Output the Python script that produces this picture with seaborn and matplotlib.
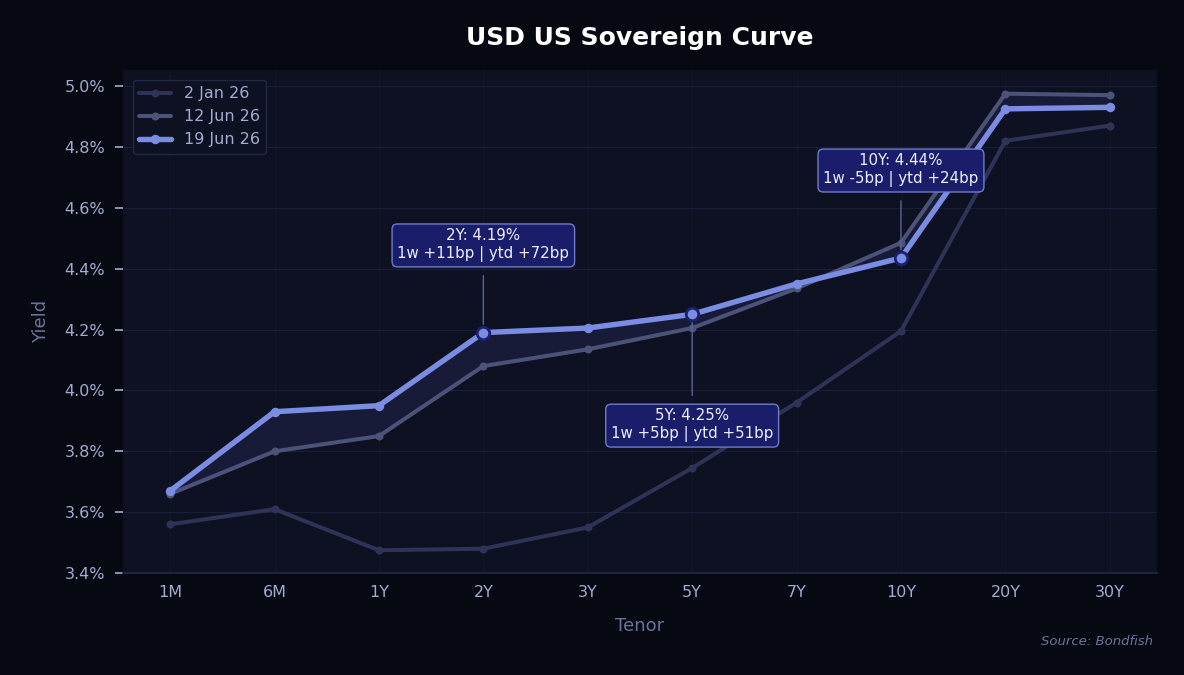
import matplotlib
matplotlib.use('Agg')
import matplotlib.pyplot as plt
import numpy as np
import pandas as pd
import seaborn as sns
from matplotlib.ticker import FuncFormatter

tenors = ['1M', '6M', '1Y', '2Y', '3Y', '5Y', '7Y', '10Y', '20Y', '30Y']
yield_2jan = [3.56, 3.61, 3.475, 3.48, 3.55, 3.745, 3.96, 4.195, 4.82, 4.87]
yield_12jun = [3.66, 3.80, 3.85, 4.08, 4.135, 4.205, 4.335, 4.485, 4.975, 4.97]
yield_19jun = [3.67, 3.93, 3.95, 4.19, 4.205, 4.25, 4.35, 4.435, 4.925, 4.93]
series_names = ['2 Jan 26', '12 Jun 26', '19 Jun 26']

callout_tenors = ['2Y', '5Y', '10Y']
callout_text = ['2Y: 4.19%\n1w +11bp | ytd +72bp',
                '5Y: 4.25%\n1w +5bp | ytd +51bp',
                '10Y: 4.44%\n1w -5bp | ytd +24bp']
callout_text_y = [4.478, 3.886, 4.724]

FIG_BG = '#060912'
AX_BG = '#0d1122'
TICK_C = '#a3abd0'
LABEL_C = '#6b7499'

df = pd.DataFrame({'tenor': tenors, 'pos': np.arange(len(tenors)),
                   series_names[0]: yield_2jan,
                   series_names[1]: yield_12jun,
                   series_names[2]: yield_19jun})

sns.set_theme(style='dark')
plt.rcParams['font.family'] = ['DejaVu Sans']

fig = plt.figure(figsize=(11.84, 6.75), dpi=100, facecolor=FIG_BG)
ax = fig.add_axes([0.104, 0.151, 0.873, 0.745])
ax.set_facecolor(AX_BG)

ax.fill_between(df['pos'], df[series_names[1]], df[series_names[2]],
                color='#181b38', zorder=1)

styles = [
    dict(color='#2f3457', lw=2.9, ms=5.8, zorder=2),
    dict(color='#4b5378', lw=2.9, ms=5.8, zorder=3),
    dict(color='#7b8ce3', lw=3.9, ms=6.8, zorder=4),
]
for name, st in zip(series_names, styles):
    sns.lineplot(data=df, x='pos', y=name, ax=ax, color=st['color'], lw=st['lw'],
                 marker='o', markersize=st['ms'], markeredgewidth=0,
                 label=name, zorder=st['zorder'], sort=False)

for t, txt, ty in zip(callout_tenors, callout_text, callout_text_y):
    i = tenors.index(t)
    yv = yield_19jun[i]
    ax.plot(i, yv, 'o', ms=9, mfc='#7b8ce3', mec='#1b2070', mew=2, zorder=6)
    ax.annotate(txt, xy=(i, yv), xytext=(i, ty), ha='center', va='center',
                fontsize=10.8, color='#eef0ff', zorder=7,
                bbox=dict(boxstyle='round,pad=0.35', fc='#191d6a', ec='#6f7cc8', lw=1),
                arrowprops=dict(arrowstyle='-', color='#5a6494', lw=1,
                                shrinkA=6, shrinkB=6))

ax.set_xlim(-0.45, 9.45)
ax.set_ylim(3.4, 5.052)
ax.set_xticks(df['pos'])
ax.set_xticklabels(tenors)
ax.set_yticks(np.arange(3.4, 5.01, 0.2))
ax.yaxis.set_major_formatter(FuncFormatter(lambda v, p: f'{v:.1f}%'))
ax.tick_params(axis='y', colors=TICK_C, labelsize=11.5, length=6, width=1.2,
               pad=7, left=True)
ax.tick_params(axis='x', colors=TICK_C, labelsize=11.5, length=0, pad=8.5)
ax.yaxis.grid(True, color='#1a1f38', lw=0.8)
ax.xaxis.grid(True, color='#121629', lw=0.8)
for s in ax.spines.values():
    s.set_visible(False)
ax.spines['bottom'].set_visible(True)
ax.spines['bottom'].set_color('#232842')

ax.set_xlabel('Tenor', color=LABEL_C, fontsize=13, labelpad=12)
ax.set_ylabel('Yield', color=LABEL_C, fontsize=13, labelpad=10)
ax.set_title('USD US Sovereign Curve', color='white', fontsize=18,
             fontweight='bold', pad=18)

leg = ax.legend(loc='upper left', fontsize=11.5, facecolor=AX_BG,
                edgecolor='#232845', framealpha=1, borderaxespad=0.6)
for t in leg.get_texts():
    t.set_color(TICK_C)

fig.text(0.974, 0.05, 'Source: Bondfish', ha='right', va='center',
         fontsize=9.5, style='italic', color=LABEL_C)

fig.savefig('out.png', dpi=100, facecolor=FIG_BG)
